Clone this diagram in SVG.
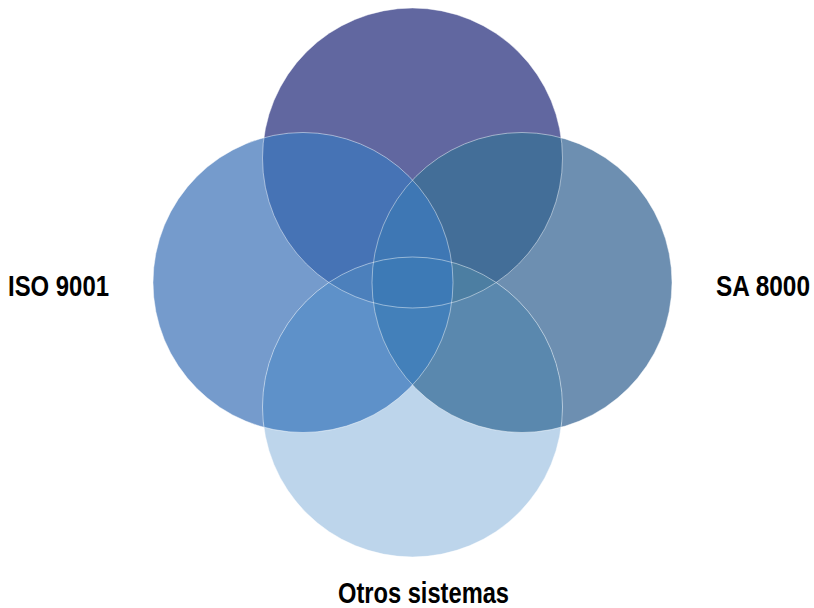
<svg xmlns="http://www.w3.org/2000/svg" width="814" height="608" viewBox="0 0 814 608">
<style>
.lbl{font-family:"Liberation Sans Narrow","Arial Narrow","Liberation Sans",Arial,sans-serif;font-weight:bold;font-size:29px;fill:#000;font-stretch:condensed}
.edge{fill:none;stroke:#ffffff;stroke-opacity:0.45;stroke-width:1}
</style>
<defs>
<clipPath id="cA"><circle cx="412.5" cy="158" r="150"/></clipPath>
<clipPath id="cB"><circle cx="303" cy="282.5" r="150"/></clipPath>
<clipPath id="cC"><circle cx="522" cy="282.5" r="150"/></clipPath>
<clipPath id="cD"><circle cx="412.5" cy="407" r="150"/></clipPath>
</defs>
<rect width="814" height="608" fill="#ffffff"/>
<g id="node-top"><circle cx="412.5" cy="158" r="150" fill="#6167A0"/></g>
<g id="node-iso9001"><circle cx="303" cy="282.5" r="150" fill="#759BCC"/>
<text class="lbl" x="8" y="296" textLength="101" lengthAdjust="spacingAndGlyphs">ISO 9001</text></g>
<g id="node-sa8000"><circle cx="522" cy="282.5" r="150" fill="#6D8FB1"/>
<text class="lbl" x="810" y="296" text-anchor="end" textLength="94" lengthAdjust="spacingAndGlyphs">SA 8000</text></g>
<g id="node-otros"><circle cx="412.5" cy="407" r="150" fill="#BDD5EB"/>
<text class="lbl" x="338" y="603" textLength="171" lengthAdjust="spacingAndGlyphs">Otros sistemas</text></g>
<g id="overlaps">
<g clip-path="url(#cA)"><circle cx="303" cy="282.5" r="150" fill="#4673B5"/></g>
<g clip-path="url(#cA)"><circle cx="522" cy="282.5" r="150" fill="#436E98"/></g>
<g clip-path="url(#cB)"><circle cx="412.5" cy="407" r="150" fill="#5E91C9"/></g>
<g clip-path="url(#cC)"><circle cx="412.5" cy="407" r="150" fill="#5A88AE"/></g>
<g clip-path="url(#cA)"><g clip-path="url(#cB)"><circle cx="522" cy="282.5" r="150" fill="#3E77B4"/></g></g>
<g clip-path="url(#cA)"><g clip-path="url(#cB)"><circle cx="412.5" cy="407" r="150" fill="#4C80BC"/></g></g>
<g clip-path="url(#cA)"><g clip-path="url(#cC)"><circle cx="412.5" cy="407" r="150" fill="#4C7EA2"/></g></g>
<g clip-path="url(#cB)"><g clip-path="url(#cC)"><circle cx="412.5" cy="407" r="150" fill="#4380BA"/></g></g>
<g clip-path="url(#cA)"><g clip-path="url(#cB)"><g clip-path="url(#cC)"><circle cx="412.5" cy="407" r="150" fill="#3D7AB6"/></g></g></g>
</g>
<g id="edges">
<circle class="edge" cx="412.5" cy="158" r="150"/>
<circle class="edge" cx="303" cy="282.5" r="150"/>
<circle class="edge" cx="522" cy="282.5" r="150"/>
<circle class="edge" cx="412.5" cy="407" r="150"/>
</g>
</svg>
